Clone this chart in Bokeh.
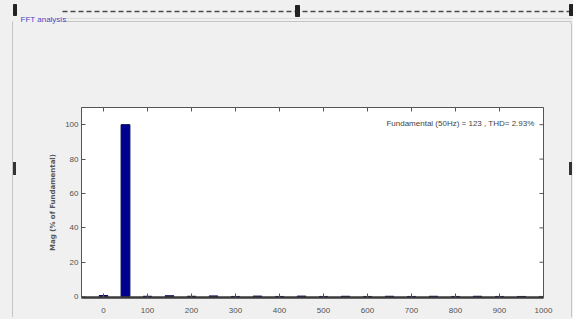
from bokeh.plotting import figure
from bokeh.layouts import column, row
from bokeh.models import Range1d, FixedTicker, Label, ColumnDataSource, Div
from bokeh.core.properties import value
from bokeh.embed import file_html
from bokeh.resources import INLINE

# Data (harmonic spectrum, % of fundamental)
freq_hz = [0, 50, 100, 150, 200, 250, 300, 350, 400, 450, 500, 550, 600, 650, 700, 750, 800, 850, 900, 950, 1000]
mag_pct = [0.6, 100, 0.2, 0.5, 0.2, 0.4, 0.1, 0.3, 0.1, 0.3, 0.1, 0.2, 0.1, 0.2, 0.1, 0.2, 0.1, 0.2, 0.1, 0.1, 0.1]
x_ticks = [0, 100, 200, 300, 400, 500, 600, 700, 800, 900, 1000]
y_ticks = [0, 20, 40, 60, 80, 100]
panel_title = "FFT analysis"
annotation = "Fundamental (50Hz) = 123 , THD= 2.93%"
y_label = "Mag (% of Fundamental)"

BG = "#f0f0f0"
FONT = "Liberation Sans"
W = 573
HEAD_H = 24
BODY_H = 295
LEFT_W = 16
RIGHT_W = 8
MAIN_W = W - LEFT_W - RIGHT_W
X0, X1 = -50, 1000
Y0, Y1 = -0.5, 110

# ---- header of the panel ----
head = figure(width=W, height=HEAD_H, output_backend="svg", toolbar_location=None,
              x_range=Range1d(0, W), y_range=Range1d(HEAD_H, 0),
              x_axis_type=None, y_axis_type=None, min_border=0,
              background_fill_color=BG, border_fill_color=BG, outline_line_color=None)
head.grid.visible = False
head.segment(x0=[62], y0=[11], x1=[571], y1=[11], line_color="#4a4a4a", line_width=1.5, line_dash="5 3")
head.quad(left=[13, 295, 569], right=[16, 299, 573], top=[4, 5, 4], bottom=[15, 16, 15],
          fill_color="#222222", line_color="#222222")
head.segment(x0=[62, 12, 570.5], y0=[21, 21, 21], x1=[570.5, 12, 570.5], y1=[21, HEAD_H, HEAD_H],
             line_color="#c4c4c4", line_width=1)
head.segment(x0=[62], y0=[18], x1=[571], y1=[18], line_color="#dadada", line_width=1)
head.text(x=[20], y=[19], text=[panel_title], text_font=value(FONT), text_font_size="8px",
          text_color="#4848c0", text_baseline="middle")

# ---- side strips (panel border and splitter handles) ----
strip_html = ('<div style="position:absolute;left:{b}px;top:0px;width:1px;height:{h}px;'
              'background:#c4c4c4"></div>'
              '<div style="position:absolute;left:{m}px;top:138px;width:3px;height:13px;'
              'background:#333333"></div>')
left = Div(text=strip_html.format(b=11.5, h=BODY_H - 2, m=13), width=LEFT_W, height=BODY_H, margin=0,
           styles={"background-color": BG, "position": "relative", "overflow": "visible"})
right = Div(text=strip_html.format(b=5.5, h=BODY_H - 2, m=4), width=RIGHT_W, height=BODY_H, margin=0,
            styles={"background-color": BG, "position": "relative", "overflow": "visible"})

# ---- main spectrum plot ----
p = figure(width=MAIN_W, height=BODY_H, output_backend="svg", toolbar_location=None,
           x_range=Range1d(X0, X1), y_range=Range1d(Y0, Y1),
           min_border_left=65, min_border_right=22, min_border_top=83, min_border_bottom=22,
           background_fill_color="white", border_fill_color=BG, outline_line_color="#555555")
p.grid.visible = False

src = ColumnDataSource(dict(x=freq_hz, top=mag_pct))
p.vbar(x="x", top="top", bottom=0, width=20, source=src, fill_color="#00008f",
       line_color="#000050", line_width=1)

for ax in (p.xaxis[0], p.yaxis[0]):
    ax.major_tick_in = 4
    ax.major_tick_out = 0
    ax.minor_tick_line_color = None
    ax.axis_line_color = "#555555"
    ax.major_tick_line_color = "#555555"
    ax.major_label_text_font = FONT
    ax.major_label_text_font_size = "8px"
    ax.major_label_text_color = "#505050"
p.xaxis[0].ticker = FixedTicker(ticks=x_ticks)
p.yaxis[0].ticker = FixedTicker(ticks=y_ticks)
p.xaxis[0].major_label_standoff = 10
p.yaxis[0].major_label_standoff = 3
p.xaxis[0].axis_line_width = 2.5
p.xaxis[0].axis_line_color = "#3a3a3a"
p.yaxis[0].axis_label = y_label
p.yaxis[0].axis_label_text_font = "DejaVu Sans"
p.yaxis[0].axis_label_text_font_size = "7px"
p.yaxis[0].axis_label_text_font_style = "bold"
p.yaxis[0].axis_label_text_color = "#555555"
p.yaxis[0].axis_label_standoff = 5

# box ticks on the top and right edges (MATLAB style), at the same tick values
tick_y = 4 * (Y1 - Y0) / 190
tick_x = 4 * (X1 - X0) / 462
p.segment(x0=x_ticks, y0=[Y1] * len(x_ticks), x1=x_ticks, y1=[Y1 - tick_y] * len(x_ticks),
          line_color="#555555", line_width=1)
p.segment(x0=[X1] * len(y_ticks), y0=y_ticks, x1=[X1 - tick_x] * len(y_ticks), y1=y_ticks,
          line_color="#555555", line_width=1)

p.add_layout(Label(x=518, y=99, x_units="canvas", y_units="canvas", text=annotation,
                   text_font=FONT, text_font_size="8px", text_color="#444444",
                   text_align="right", text_baseline="middle"))

layout = column(head, row(left, p, right, spacing=0), spacing=0, background=BG)
open("out.html", "w").write(file_html(layout, INLINE))
